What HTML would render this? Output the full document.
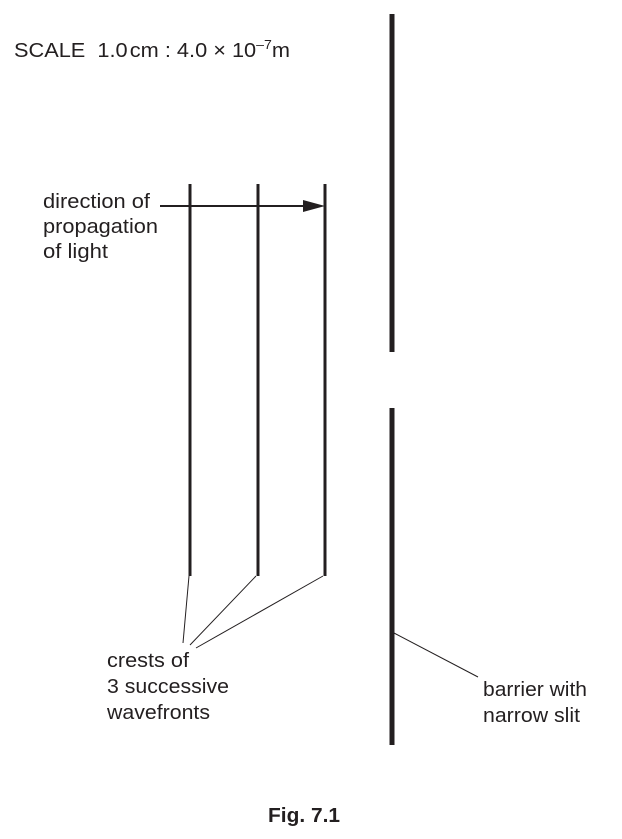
<!DOCTYPE html>
<html><head><style>
body{margin:0;background:#fff;}
svg text{font-family:"Liberation Sans",sans-serif;font-size:20px;fill:#231f20;}
</style></head><body>
<svg width="622" height="834" xmlns="http://www.w3.org/2000/svg">
<text x="14" y="57" textLength="276" lengthAdjust="spacingAndGlyphs">SCALE&#160; 1.0<tspan dx="2">cm : 4.0 × 10</tspan><tspan dy="-8" font-size="13">–7</tspan><tspan dy="8">m</tspan></text>
<g stroke="#231f20" stroke-width="3">
<line x1="190" y1="184" x2="190" y2="576"/>
<line x1="258" y1="184" x2="258" y2="576"/>
<line x1="325" y1="184" x2="325" y2="576"/>
</g>
<g stroke="#231f20" stroke-width="5">
<line x1="392" y1="14" x2="392" y2="352"/>
<line x1="392" y1="408" x2="392" y2="745"/>
</g>
<line x1="160" y1="206" x2="306" y2="206" stroke="#231f20" stroke-width="2"/>
<polygon points="303,200 325,206 303,212" fill="#231f20"/>
<g stroke="#231f20" stroke-width="1">
<line x1="189" y1="576" x2="183" y2="643"/>
<line x1="256" y1="576" x2="190" y2="645"/>
<line x1="323" y1="576" x2="196" y2="648"/>
<line x1="394" y1="633" x2="478" y2="677"/>
</g>
<text x="43" y="208" textLength="107" lengthAdjust="spacingAndGlyphs">direction of</text>
<text x="43" y="233" textLength="115" lengthAdjust="spacingAndGlyphs">propagation</text>
<text x="43" y="258" textLength="65" lengthAdjust="spacingAndGlyphs">of light</text>
<text x="107" y="667" textLength="82" lengthAdjust="spacingAndGlyphs">crests of</text>
<text x="107" y="693" textLength="122" lengthAdjust="spacingAndGlyphs">3 successive</text>
<text x="107" y="719" textLength="103" lengthAdjust="spacingAndGlyphs">wavefronts</text>
<text x="483" y="696" textLength="104" lengthAdjust="spacingAndGlyphs">barrier with</text>
<text x="483" y="722" textLength="97" lengthAdjust="spacingAndGlyphs">narrow slit</text>
<text x="268" y="822" font-weight="bold" textLength="72" lengthAdjust="spacingAndGlyphs">Fig. 7.1</text>
</svg>
</body></html>
